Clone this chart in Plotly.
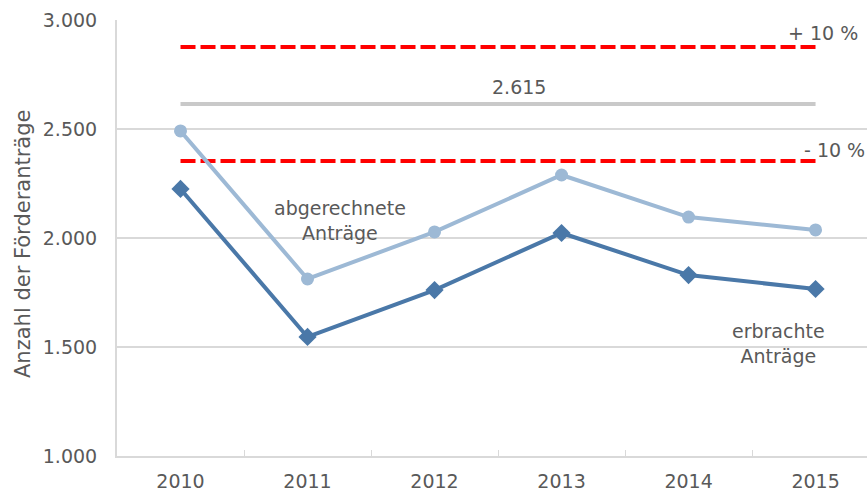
import plotly.graph_objects as go

# Daten
jahre = ["2010", "2011", "2012", "2013", "2014", "2015"]
abgerechnet = [2491, 1812, 2028, 2289, 2096, 2037]
erbracht = [2225, 1546, 1761, 2023, 1830, 1766]
mittelwert = [2615, 2615, 2615, 2615, 2615, 2615]
plus_10 = [2876.5, 2876.5, 2876.5, 2876.5, 2876.5, 2876.5]
minus_10 = [2353.5, 2353.5, 2353.5, 2353.5, 2353.5, 2353.5]
y_ticks = [1000, 1500, 2000, 2500, 3000]
y_tick_labels = ["1.000", "1.500", "2.000", "2.500", "3.000"]

FONT = "Verdana, DejaVu Sans, sans-serif"
SIZE = 19
TXT = "#595959"
GRID = "#D9D9D9"
RED = "#FF0000"
LIGHT = "#9DB9D5"
DARK = "#4A78A8"

fig = go.Figure()

for band in (plus_10, minus_10):
    fig.add_trace(go.Scatter(
        x=jahre, y=band, mode="lines",
        line=dict(color=RED, width=4, dash="15px,5px"),
        hoverinfo="skip", showlegend=False,
    ))

fig.add_trace(go.Scatter(
    x=jahre, y=mittelwert, mode="lines",
    line=dict(color="#C9C9C9", width=4),
    hoverinfo="skip", showlegend=False,
))

fig.add_trace(go.Scatter(
    x=jahre, y=abgerechnet, mode="lines+markers",
    line=dict(color=LIGHT, width=4),
    marker=dict(symbol="circle", size=13, color=LIGHT),
    name="abgerechnete Anträge", showlegend=False,
))

fig.add_trace(go.Scatter(
    x=jahre, y=erbracht, mode="lines+markers",
    line=dict(color=DARK, width=4),
    marker=dict(symbol="diamond", size=14, color=DARK),
    name="erbrachte Anträge", showlegend=False,
))

# plot area: x 117..867, y 20..456
def px(x):
    return (x - 117) / 750

def py(y):
    return (456 - y) / 436

notes = [
    ("+ 10 %", 860, 33, "right"),
    ("- 10 %", 867, 150, "right"),
    ("2.615", 519, 87, "center"),
    ("abgerechnete<br>Anträge", 340, 220, "center"),
    ("erbrachte<br>Anträge", 778, 343, "center"),
]
annotations = []
for text, x, y, anchor in notes:
    annotations.append(dict(
        text=text, x=px(x), y=py(y), xref="paper", yref="paper",
        xanchor=anchor, yanchor="middle", showarrow=False, align="center",
        font=dict(family=FONT, size=SIZE, color=TXT),
    ))

# y-axis title as rotated annotation
annotations.append(dict(
    text="Anzahl der Förderanträge", x=px(23), y=py(244),
    xref="paper", yref="paper", xanchor="center", yanchor="middle",
    textangle=-90, showarrow=False,
    font=dict(family=FONT, size=21, color=TXT),
))

fig.update_layout(
    width=867, height=491,
    margin=dict(l=117, r=0, t=20, b=35),
    plot_bgcolor="white", paper_bgcolor="white",
    font=dict(family=FONT, color=TXT, size=SIZE),
    annotations=annotations,
    xaxis=dict(
        type="category", range=[-0.5, 5.405], automargin=False,
        tickson="boundaries", ticks="inside", ticklen=6, tickcolor=GRID,
        showgrid=False, showline=True, linecolor=GRID, linewidth=2,
        tickfont=dict(family=FONT, size=SIZE, color=TXT),
        ticklabelstandoff=7,
    ),
    yaxis=dict(
        range=[1000, 3000], tickvals=y_ticks, ticktext=y_tick_labels,
        automargin=False,
        showgrid=True, gridcolor=GRID, gridwidth=2,
        showline=True, linecolor=GRID, linewidth=2,
        zeroline=False, ticks="",
        tickfont=dict(family=FONT, size=SIZE, color=TXT),
        ticklabelstandoff=14,
    ),
)

fig.write_html("out.html", config={"displayModeBar": False},
               post_script="document.body.style.margin='0px';")
